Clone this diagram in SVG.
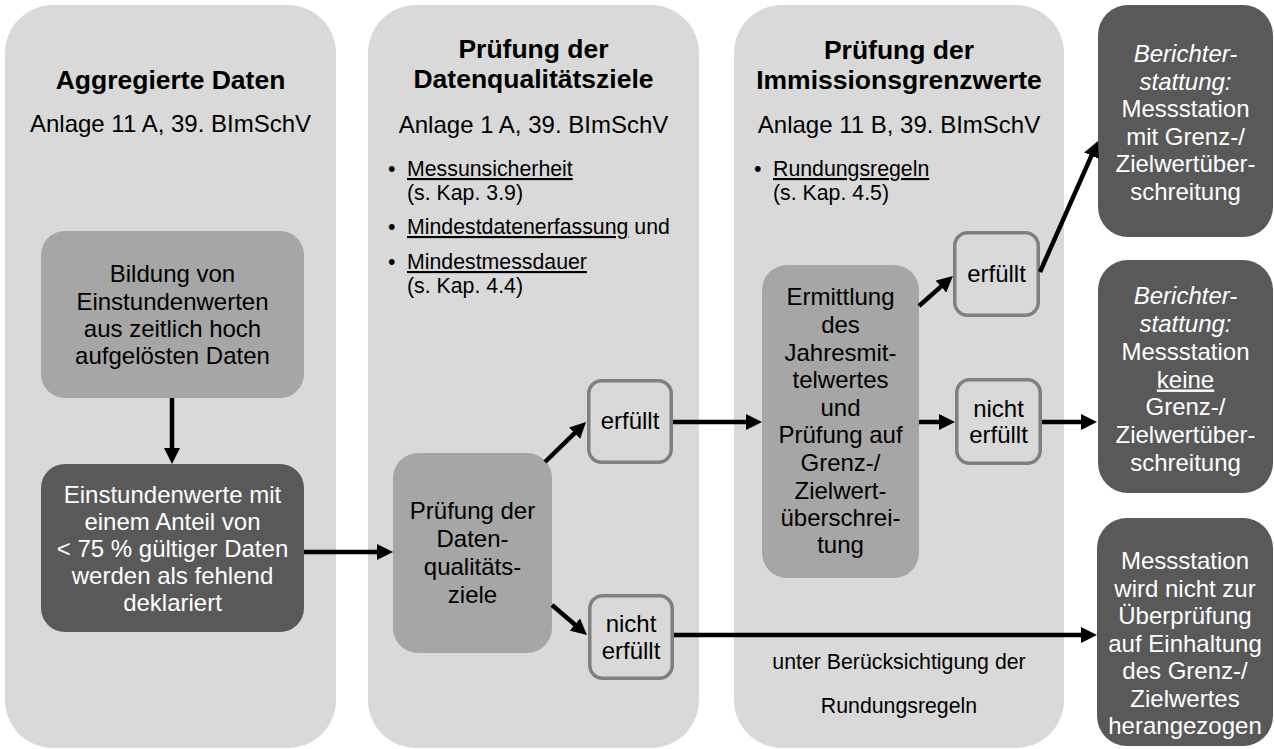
<svg xmlns="http://www.w3.org/2000/svg" width="1274" height="749" viewBox="0 0 1274 749">
<style>
text{font-family:"Liberation Sans",Arial,sans-serif;fill:#000;text-anchor:middle}
.t{font-size:26.5px;font-weight:bold}
.s{font-size:24px}
.b{font-size:21.3px;text-anchor:start}
.w{fill:#fff}
.i{font-style:italic}
.u{text-decoration:underline}
.panel{fill:#d9d9d9}
.mid{fill:#a6a6a6}
.dark{fill:#595959}
.small{fill:#d9d9d9;stroke:#808080;stroke-width:3.5}
.c{stroke:#000;stroke-width:4.5;fill:none;marker-end:url(#ah)}
.n{stroke:#000;stroke-width:4.5;fill:none}
</style>
<defs>
<marker id="ah" markerUnits="userSpaceOnUse" markerWidth="16" markerHeight="16" refX="3" refY="8" orient="auto"><path d="M0,0 L16,8 L0,16 z" fill="#000"/></marker>
</defs>
<rect width="1274" height="749" fill="#fff"/>

<g id="panel1">
<rect class="panel" x="5" y="5" width="331" height="743" rx="48"/>
<text class="t" x="170.5" y="89">Aggregierte Daten</text>
<text class="s" x="170.5" y="132">Anlage 11 A, 39. BImSchV</text>
</g>
<g id="panel2">
<rect class="panel" x="368" y="5" width="331" height="743" rx="48"/>
<text class="t" x="533.5" y="58">Prüfung der</text>
<text class="t" x="533.5" y="88">Datenqualitätsziele</text>
<text class="s" x="533.5" y="133">Anlage 1 A, 39. BImSchV</text>
<text class="b" x="388" y="176">•</text>
<text class="b" x="407" y="176"><tspan class="u">Messunsicherheit</tspan></text>
<text class="b" x="407" y="200">(s. Kap. 3.9)</text>
<text class="b" x="388" y="234">•</text>
<text class="b" x="407" y="234"><tspan class="u">Mindestdatenerfassung</tspan> und</text>
<text class="b" x="388" y="269">•</text>
<text class="b" x="407" y="269"><tspan class="u">Mindestmessdauer</tspan></text>
<text class="b" x="407" y="293">(s. Kap. 4.4)</text>
</g>
<g id="panel3">
<rect class="panel" x="734" y="5" width="330" height="743" rx="48"/>
<text class="t" x="899" y="59">Prüfung der</text>
<text class="t" x="899" y="89">Immissionsgrenzwerte</text>
<text class="s" x="899" y="133">Anlage 11 B, 39. BImSchV</text>
<text class="b" x="754" y="176">•</text>
<text class="b" x="773" y="176"><tspan class="u">Rundungsregeln</tspan></text>
<text class="b" x="773" y="200">(s. Kap. 4.5)</text>
<text class="b" x="899" y="669" style="text-anchor:middle">unter Berücksichtigung der</text>
<text class="b" x="899" y="713" style="text-anchor:middle">Rundungsregeln</text>
</g>

<g id="bildung">
<rect class="mid" x="41" y="231" width="263" height="167" rx="24"/>
<text class="s" x="172.5" y="282">Bildung von</text>
<text class="s" x="172.5" y="310">Einstundenwerten</text>
<text class="s" x="172.5" y="337">aus zeitlich hoch</text>
<text class="s" x="172.5" y="364">aufgelösten Daten</text>
</g>
<g id="einstunden">
<rect class="dark" x="41" y="464" width="263" height="168" rx="24"/>
<text class="s w" x="172.5" y="503">Einstundenwerte mit</text>
<text class="s w" x="172.5" y="530">einem Anteil von</text>
<text class="s w" x="172.5" y="557">&lt; 75 % gültiger Daten</text>
<text class="s w" x="172.5" y="584">werden als fehlend</text>
<text class="s w" x="172.5" y="611">deklariert</text>
</g>
<g id="pruefung">
<rect class="mid" x="393" y="453" width="159" height="200" rx="25"/>
<text class="s" x="472.5" y="519">Prüfung der</text>
<text class="s" x="472.5" y="547">Daten-</text>
<text class="s" x="472.5" y="575">qualitäts-</text>
<text class="s" x="472.5" y="603">ziele</text>
</g>
<g id="erfuellt1">
<rect class="small" x="588.75" y="380.75" width="82.5" height="81.5" rx="13"/>
<text class="s" x="630" y="429">erfüllt</text>
</g>
<g id="nichterfuellt1">
<rect class="small" x="589.75" y="595.75" width="82.5" height="82.5" rx="13"/>
<text class="s" x="631" y="632">nicht</text>
<text class="s" x="631" y="659">erfüllt</text>
</g>
<g id="ermittlung">
<rect class="mid" x="762" y="265" width="157" height="313" rx="25"/>
<text class="s" x="840.5" y="305">Ermittlung</text>
<text class="s" x="840.5" y="333">des</text>
<text class="s" x="840.5" y="361">Jahresmit-</text>
<text class="s" x="840.5" y="388">telwertes</text>
<text class="s" x="840.5" y="416">und</text>
<text class="s" x="840.5" y="443">Prüfung auf</text>
<text class="s" x="840.5" y="471">Grenz-/</text>
<text class="s" x="840.5" y="499">Zielwert-</text>
<text class="s" x="840.5" y="526">überschrei-</text>
<text class="s" x="840.5" y="553">tung</text>
</g>
<g id="erfuellt2">
<rect class="small" x="954.75" y="232.75" width="83.5" height="82.5" rx="13"/>
<text class="s" x="996.5" y="282">erfüllt</text>
</g>
<g id="nichterfuellt2">
<rect class="small" x="956.75" y="379.75" width="83.5" height="83.5" rx="13"/>
<text class="s" x="998.5" y="417">nicht</text>
<text class="s" x="998.5" y="443">erfüllt</text>
</g>
<g id="berichtA">
<rect class="dark" x="1098" y="5" width="175" height="232" rx="30"/>
<text class="s w i" x="1185.5" y="62">Berichter-</text>
<text class="s w i" x="1185.5" y="89.5">stattung:</text>
<text class="s w" x="1185.5" y="117">Messstation</text>
<text class="s w" x="1185.5" y="144.5">mit Grenz-/</text>
<text class="s w" x="1185.5" y="172">Zielwertüber-</text>
<text class="s w" x="1185.5" y="199.5">schreitung</text>
</g>
<g id="berichtB">
<rect class="dark" x="1098" y="260" width="175" height="233" rx="30"/>
<text class="s w i" x="1185.5" y="304">Berichter-</text>
<text class="s w i" x="1185.5" y="332">stattung:</text>
<text class="s w" x="1185.5" y="359.5">Messstation</text>
<text class="s w u" x="1185.5" y="387.5">keine</text>
<text class="s w" x="1185.5" y="415">Grenz-/</text>
<text class="s w" x="1185.5" y="443">Zielwertüber-</text>
<text class="s w" x="1185.5" y="471">schreitung</text>
</g>
<g id="messstationC">
<rect class="dark" x="1097" y="518" width="176" height="228" rx="30"/>
<text class="s w" x="1185" y="569">Messstation</text>
<text class="s w" x="1185" y="596.5">wird nicht zur</text>
<text class="s w" x="1185" y="624">Überprüfung</text>
<text class="s w" x="1185" y="651.5">auf Einhaltung</text>
<text class="s w" x="1185" y="679">des Grenz-/</text>
<text class="s w" x="1185" y="706.5">Zielwertes</text>
<text class="s w" x="1185" y="734">herangezogen</text>
</g>

<g id="connectors">
<line class="c" x1="172" y1="398" x2="172" y2="451"/>
<line class="c" x1="304" y1="552" x2="380" y2="552"/>
<line class="c" x1="545" y1="462" x2="576.7" y2="431.1"/>
<line class="c" x1="552" y1="605" x2="577.1" y2="626.5"/>
<line class="c" x1="673" y1="422" x2="749" y2="422"/>
<line class="c" x1="674" y1="635" x2="1084" y2="635"/>
<line class="c" x1="919" y1="306" x2="943.2" y2="284.6"/>
<line class="c" x1="919" y1="422" x2="942" y2="422"/>
<line class="c" x1="1042" y1="422" x2="1084" y2="422"/>
<line class="c" x1="1040" y1="272" x2="1092.7" y2="152.9"/>
</g>
</svg>
